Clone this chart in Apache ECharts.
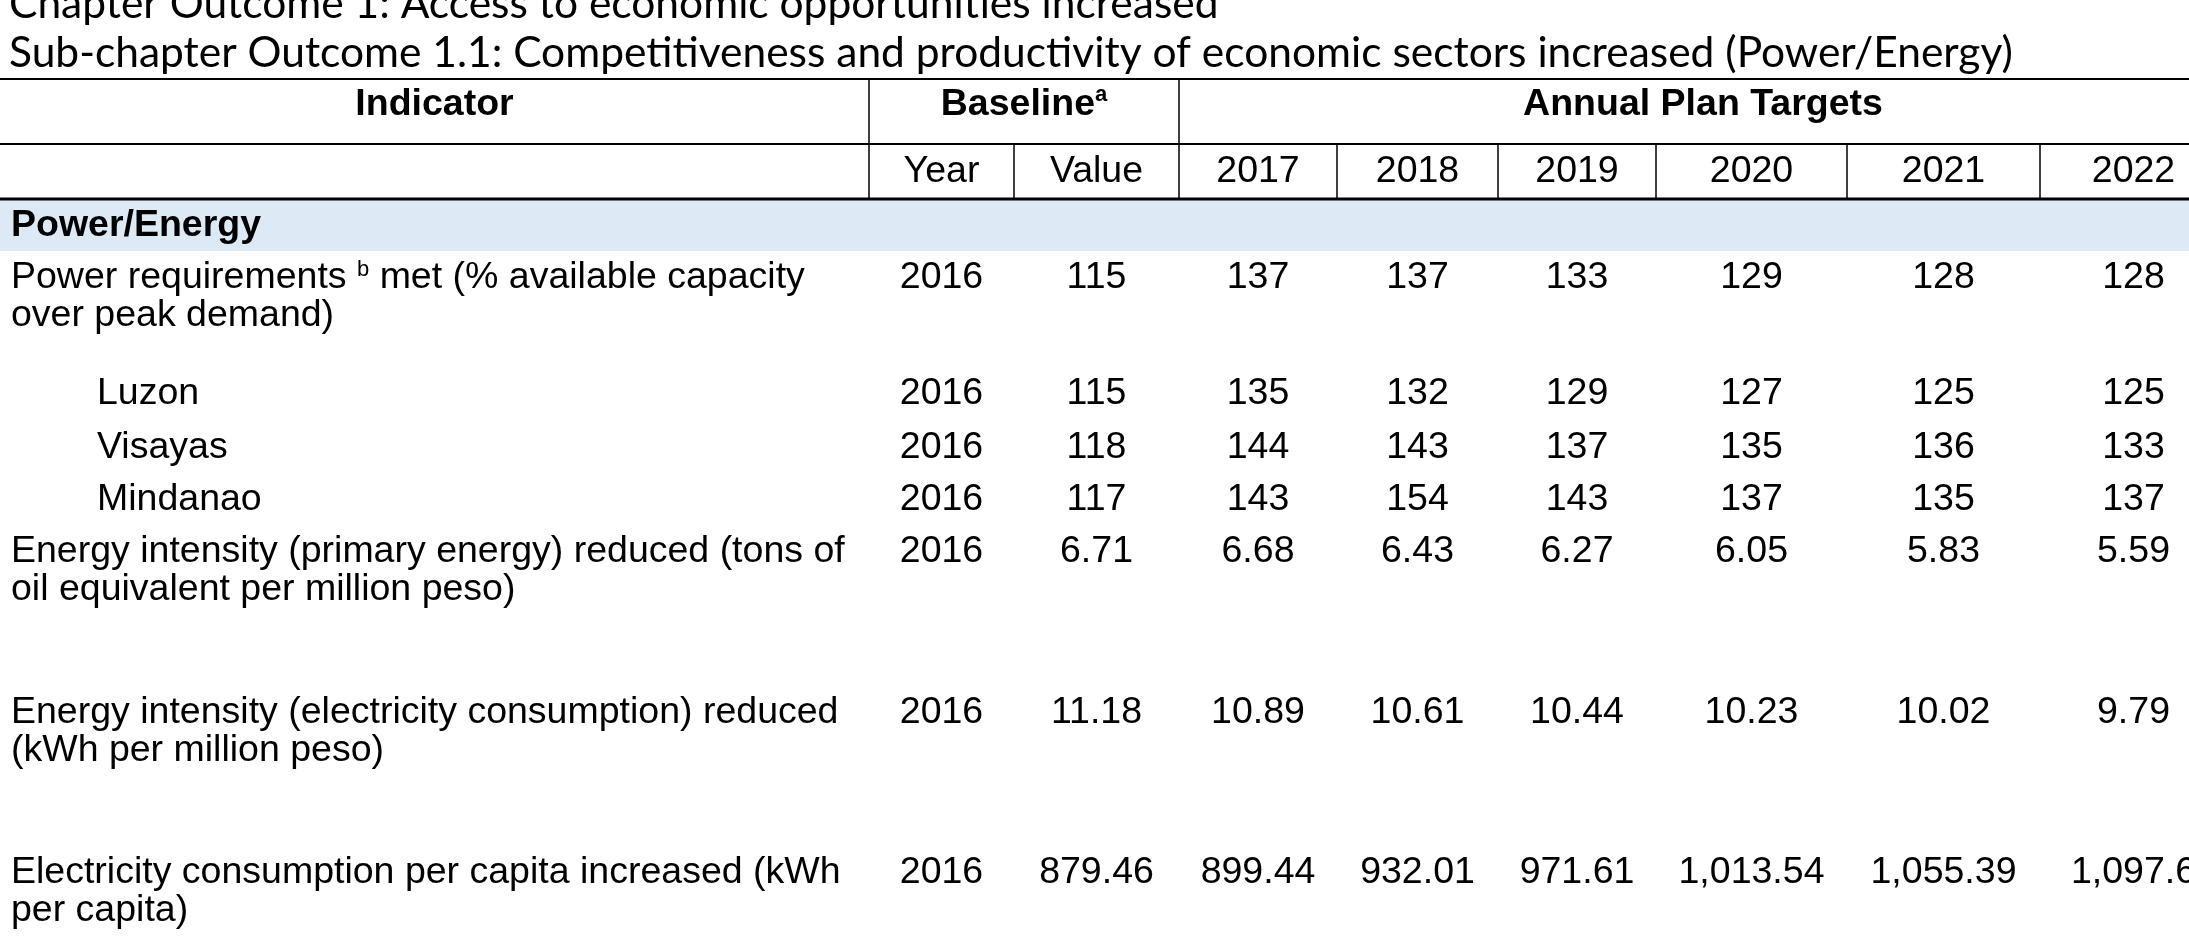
<!DOCTYPE html>
<html>
<head>
<meta charset="utf-8">
<script src="https://cdn.jsdelivr.net/npm/echarts@6/dist/echarts.min.js"></script>
<style>
  html, body { margin: 0; padding: 0; background: #fff; }
  #main { width: 2189px; height: 948px; }
</style>
</head>
<body>
<div id="main"></div>
<script>
// ---- table content ----
var chapterTitle = 'Chapter Outcome 1: Access to economic opportunities increased';
var subTitle = 'Sub-chapter Outcome 1.1: Competitiveness and productivity of economic sectors increased (Power/Energy)';
var sectionName = 'Power/Energy';
var targetYears = ['2017', '2018', '2019', '2020', '2021', '2022'];

var indicators = [
    'Power requirements {sup|b} met (% available capacity\nover peak demand)',
    'Luzon',
    'Visayas',
    'Mindanao',
    'Energy intensity (primary energy) reduced (tons of\noil equivalent per million peso)',
    'Energy intensity (electricity consumption) reduced\n(kWh per million peso)',
    'Electricity consumption per capita increased (kWh\nper capita)'
];
var isSubRegion = [false, true, true, true, false, false, false];
var baselineYear = [2016, 2016, 2016, 2016, 2016, 2016, 2016];
var baselineValue = [115, 115, 118, 117, 6.71, 11.18, 879.46];

var powerMet = [137, 137, 133, 129, 128, 128];
var luzon = [135, 132, 129, 127, 125, 125];
var visayas = [144, 143, 137, 135, 136, 133];
var mindanao = [143, 154, 143, 137, 135, 137];
var primaryIntensity = [6.68, 6.43, 6.27, 6.05, 5.83, 5.59];
var electricIntensity = [10.89, 10.61, 10.44, 10.23, 10.02, 9.79];
var consumptionPerCapita = [899.44, 932.01, 971.61, 1013.54, 1055.39, 1097.6];

var targets = [powerMet, luzon, visayas, mindanao, primaryIntensity, electricIntensity, consumptionPerCapita];

// ---- layout (page units) ----
var colEdges = [0, 869, 1014, 1179, 1337, 1498, 1656, 1847, 2040, 2227];
var tableTop = 79, head1Bottom = 144, head2Bottom = 199, bandBottom = 251;
var head1Y = 105, head2Y = 172, sectionY = 226;
var rowY = [278, 394, 448, 500, 552, 713, 873]; // middle of first text line
var lineH = 38;
var textLeft = 11, indent = 86;

var FONT = "'Liberation Sans', Arial, sans-serif";
var FS = 37.5;
var TITLE_FS = 42.5;

function fmt(v) {
    return v.toLocaleString('en-US', { maximumFractionDigits: 2 });
}
function colCenter(c) {
    return (colEdges[c] + colEdges[c + 1]) / 2;
}

// body cells: [col, row, text]
var cells = [];
indicators.forEach(function (name, r) {
    cells.push([0, r, name]);
    cells.push([1, r, String(baselineYear[r])]);
    cells.push([2, r, fmt(baselineValue[r])]);
    targets[r].forEach(function (v, i) {
        cells.push([3 + i, r, fmt(v)]);
    });
});

// header cells: [col, level, text]  (negative col = spanning header)
var headCells = [[-1, 0, 'Indicator'], [-2, 0, 'Baseline{sup|a}'], [-3, 0, 'Annual Plan Targets'],
    [1, 1, 'Year'], [2, 1, 'Value']];
targetYears.forEach(function (y, i) { headCells.push([3 + i, 1, y]); });

var chart = echarts.init(document.getElementById('main'));

var option = {
    animation: false,
    title: [
        {
            text: chapterTitle, left: 4, top: -22,
            textStyle: { fontFamily: 'Lato', fontWeight: 'normal', fontSize: TITLE_FS, color: '#000' }
        },
        {
            text: subTitle, left: 4, top: 27,
            textStyle: { fontFamily: 'Lato', fontWeight: 'normal', fontSize: TITLE_FS, color: '#000' }
        }
    ],
    grid: { left: 0, right: 0, top: 0, bottom: 0 },
    xAxis: { type: 'value', min: 0, max: 2189, show: false },
    yAxis: { type: 'value', min: 0, max: 948, inverse: true, show: false },
    series: [
        {
            // band and rules
            type: 'custom',
            silent: true,
            data: [[0, 0]],
            renderItem: function (params, api) {
                var kids = [];
                var a = api.coord([0, head2Bottom]);
                var b = api.coord([2189, bandBottom]);
                kids.push({ type: 'rect', shape: { x: a[0], y: a[1], width: b[0] - a[0], height: b[1] - a[1] },
                    style: { fill: '#dde9f5' } });
                function hline(y, w) {
                    var p = api.coord([0, y]), q = api.coord([2189, y]);
                    kids.push({ type: 'line', shape: { x1: p[0], y1: p[1], x2: q[0], y2: q[1] },
                        style: { stroke: '#000', lineWidth: w } });
                }
                function vline(x, y1, y2) {
                    var p = api.coord([x, y1]), q = api.coord([x, y2]);
                    kids.push({ type: 'line', shape: { x1: p[0], y1: p[1], x2: q[0], y2: q[1] },
                        style: { stroke: '#000', lineWidth: 1.5 } });
                }
                hline(tableTop, 2);
                hline(head1Bottom, 2);
                hline(head2Bottom, 3);
                vline(colEdges[1], tableTop, head2Bottom);
                vline(colEdges[3], tableTop, head2Bottom);
                vline(colEdges[2], head1Bottom, head2Bottom);
                for (var c = 4; c < colEdges.length - 1; c++) vline(colEdges[c], head1Bottom, head2Bottom);
                return { type: 'group', children: kids };
            }
        },
        {
            // header texts
            type: 'custom',
            silent: true,
            data: headCells,
            renderItem: function (params, api) {
                var d = headCells[params.dataIndex];
                var x;
                if (d[0] === -1) x = (colEdges[0] + colEdges[1]) / 2;
                else if (d[0] === -2) x = (colEdges[1] + colEdges[3]) / 2;
                else if (d[0] === -3) x = (colEdges[3] + colEdges[colEdges.length - 1]) / 2;
                else x = colCenter(d[0]);
                var p = api.coord([x, d[1] === 0 ? head1Y : head2Y]);
                return {
                    type: 'text', x: p[0], y: p[1],
                    style: {
                        text: d[2], fill: '#000', fontFamily: FONT, fontSize: FS, lineHeight: 42,
                        fontWeight: d[1] === 0 ? 'bold' : 'normal',
                        align: 'center', verticalAlign: 'middle',
                        rich: { sup: { fontSize: 22, fontFamily: FONT, fontWeight: 'bold', verticalAlign: 'top', lineHeight: 34, fill: '#000' } }
                    }
                };
            }
        },
        {
            // section label
            type: 'custom',
            silent: true,
            data: [[0, 0]],
            renderItem: function (params, api) {
                var p = api.coord([textLeft, sectionY]);
                return {
                    type: 'text', x: p[0], y: p[1],
                    style: { text: sectionName, fill: '#000', fontFamily: FONT, fontSize: FS, fontWeight: 'bold',
                        align: 'left', verticalAlign: 'middle' }
                };
            }
        },
        {
            // body cells
            type: 'custom',
            silent: true,
            data: cells,
            renderItem: function (params, api) {
                var d = cells[params.dataIndex];
                var x, align;
                if (d[0] === 0) {
                    x = textLeft + (isSubRegion[d[1]] ? indent : 0);
                    align = 'left';
                } else {
                    x = colCenter(d[0]);
                    align = 'center';
                }
                var p = api.coord([x, rowY[d[1]] - lineH / 2]);
                return {
                    type: 'text', x: p[0], y: p[1],
                    style: {
                        text: d[2], fill: '#000', fontFamily: FONT, fontSize: FS, lineHeight: lineH,
                        align: align, verticalAlign: 'top',
                        rich: { sup: { fontSize: 22, fontFamily: FONT, verticalAlign: 'top', lineHeight: 30, fill: '#000' } }
                    }
                };
            }
        }
    ]
};
chart.setOption(option);
</script>
</body>
</html>
